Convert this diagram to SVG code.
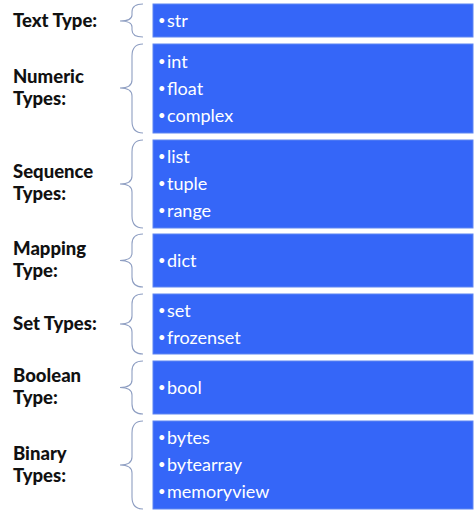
<svg xmlns="http://www.w3.org/2000/svg" width="474" height="516" viewBox="0 0 474 516">
<style>
.box{fill:#3566f8;stroke:#5f86f2;stroke-width:1}
.brace{fill:none;stroke:#8e9ec2;stroke-width:1.1}
.lbl{font-family:Lato,"Liberation Sans",sans-serif;font-weight:900;font-size:18.5px;fill:#111}
.it{font-family:Lato,"Liberation Sans",sans-serif;font-size:18px;fill:#fff}
.b{font-size:13px}
</style>
<rect width="474" height="516" fill="#fff"/>
<g id="connectors">
<path class="brace" d="M143,4 Q132,4 132,12 L132,15 Q132,21 120,21 Q132,21 132,27 L132,30 Q132,37 143,37"/>
<path class="brace" d="M143,44 Q132,44 132,56 L132,80 Q132,88 120,88 Q132,88 132,96 L132,121 Q132,133 143,133"/>
<path class="brace" d="M143,140 Q132,140 132,152 L132,176 Q132,184 120,184 Q132,184 132,192 L132,216 Q132,228 143,228"/>
<path class="brace" d="M143,234 Q132,234 132,244 L132,253 Q132,260.5 120,260.5 Q132,260.5 132,268 L132,277 Q132,287 143,287"/>
<path class="brace" d="M143,294 Q132,294 132,304 L132,316 Q132,324 120,324 Q132,324 132,332 L132,344 Q132,354 143,354"/>
<path class="brace" d="M143,361 Q132,361 132,371 L132,380 Q132,387.5 120,387.5 Q132,387.5 132,395 L132,404 Q132,414 143,414"/>
<path class="brace" d="M143,421 Q132,421 132,433 L132,457 Q132,465 120,465 Q132,465 132,473 L132,497 Q132,509 143,509"/>
</g>
<g id="text-type">
<text class="lbl" x="13" y="27">Text Type:</text>
<rect class="box" x="153" y="4" width="320" height="33"/>
<text class="it" x="158" y="27"><tspan class="b" dy="-2.5">•</tspan><tspan x="167" dy="2.5">str</tspan></text>
</g>
<g id="numeric-types">
<text class="lbl" x="13" y="83">Numeric</text>
<text class="lbl" x="13" y="105">Types:</text>
<rect class="box" x="153" y="44" width="320" height="89"/>
<text class="it" x="158" y="68"><tspan class="b" dy="-2.5">•</tspan><tspan x="167" dy="2.5">int</tspan></text>
<text class="it" x="158" y="95"><tspan class="b" dy="-2.5">•</tspan><tspan x="167" dy="2.5">float</tspan></text>
<text class="it" x="158" y="122"><tspan class="b" dy="-2.5">•</tspan><tspan x="167" dy="2.5">complex</tspan></text>
</g>
<g id="sequence-types">
<text class="lbl" x="13" y="178">Sequence</text>
<text class="lbl" x="13" y="200">Types:</text>
<rect class="box" x="153" y="140" width="320" height="88"/>
<text class="it" x="158" y="163"><tspan class="b" dy="-2.5">•</tspan><tspan x="167" dy="2.5">list</tspan></text>
<text class="it" x="158" y="190"><tspan class="b" dy="-2.5">•</tspan><tspan x="167" dy="2.5">tuple</tspan></text>
<text class="it" x="158" y="217"><tspan class="b" dy="-2.5">•</tspan><tspan x="167" dy="2.5">range</tspan></text>
</g>
<g id="mapping-type">
<text class="lbl" x="13" y="255">Mapping</text>
<text class="lbl" x="13" y="277">Type:</text>
<rect class="box" x="153" y="234" width="320" height="53"/>
<text class="it" x="158" y="267"><tspan class="b" dy="-2.5">•</tspan><tspan x="167" dy="2.5">dict</tspan></text>
</g>
<g id="set-types">
<text class="lbl" x="13" y="330">Set Types:</text>
<rect class="box" x="153" y="294" width="320" height="60"/>
<text class="it" x="158" y="317"><tspan class="b" dy="-2.5">•</tspan><tspan x="167" dy="2.5">set</tspan></text>
<text class="it" x="158" y="344"><tspan class="b" dy="-2.5">•</tspan><tspan x="167" dy="2.5">frozenset</tspan></text>
</g>
<g id="boolean-type">
<text class="lbl" x="13" y="382">Boolean</text>
<text class="lbl" x="13" y="404">Type:</text>
<rect class="box" x="153" y="361" width="320" height="53"/>
<text class="it" x="158" y="394"><tspan class="b" dy="-2.5">•</tspan><tspan x="167" dy="2.5">bool</tspan></text>
</g>
<g id="binary-types">
<text class="lbl" x="13" y="460">Binary</text>
<text class="lbl" x="13" y="482">Types:</text>
<rect class="box" x="153" y="421" width="320" height="88"/>
<text class="it" x="158" y="444"><tspan class="b" dy="-2.5">•</tspan><tspan x="167" dy="2.5">bytes</tspan></text>
<text class="it" x="158" y="471"><tspan class="b" dy="-2.5">•</tspan><tspan x="167" dy="2.5">bytearray</tspan></text>
<text class="it" x="158" y="498"><tspan class="b" dy="-2.5">•</tspan><tspan x="167" dy="2.5">memoryview</tspan></text>
</g>
</svg>
